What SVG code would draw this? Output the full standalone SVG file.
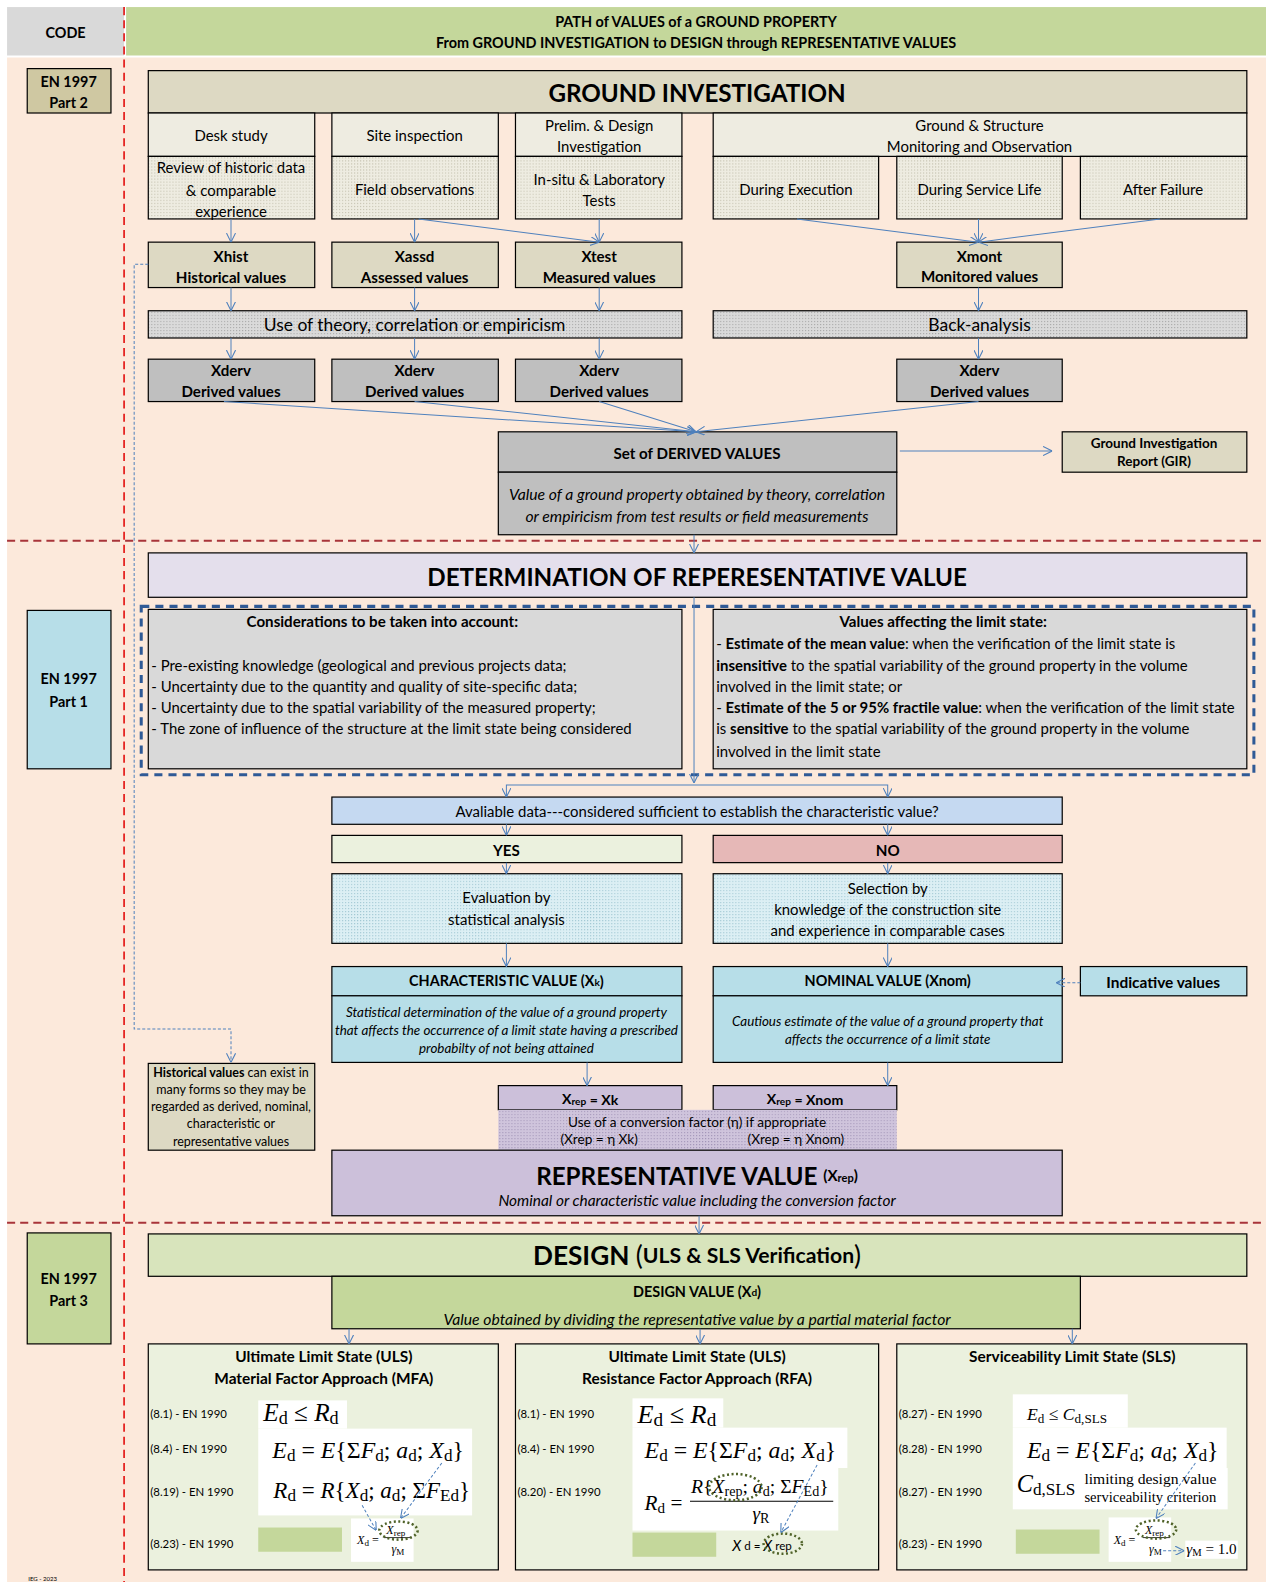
<svg xmlns="http://www.w3.org/2000/svg" width="1266" height="1582" viewBox="0 0 1266 1582">
<style>
.t{font-family:Lato,"Open Sans","Liberation Sans",sans-serif;fill:#000;dominant-baseline:central}
.c{text-anchor:middle}
.b{font-weight:bold}
.i{font-style:italic}
.s15{font-size:14.8px}
.sb{font-size:15px;font-weight:bold}
.sh{font-size:14.3px;font-weight:bold}
.s12{font-size:13.3px}
.s11{font-size:12.4px}
.lb{font-size:11.3px}
.bx{stroke:#000;stroke-width:1.2}
.cn{stroke:#4F81BD;stroke-width:1;fill:none;marker-end:url(#ah)}
.dcn{stroke:#4F81BD;stroke-width:1;fill:none;stroke-dasharray:3 2;marker-end:url(#ah)}
.f{font-family:"Liberation Serif","DejaVu Serif",serif;fill:#000}
.fi{font-style:italic}
.wb{fill:#fff}
.gb{fill:#C4D79B}
.el{fill:none;stroke:#4F6228;stroke-width:2.5;stroke-dasharray:2 2.5}
</style>
<defs>
<marker id="ah" viewBox="0 0 10 10" refX="10" refY="5" markerWidth="9" markerHeight="9" orient="auto" markerUnits="userSpaceOnUse">
<path d="M0,0 L10,5 L0,10" fill="none" stroke="#4F81BD" stroke-width="1.2"/>
</marker>
<pattern id="pTan" width="3" height="3" patternUnits="userSpaceOnUse"><rect width="3" height="3" fill="#EEECE1"/><rect width="1" height="1" fill="#BDB9A6"/></pattern>
<pattern id="pGray" width="3" height="3" patternUnits="userSpaceOnUse"><rect width="3" height="3" fill="#DADADA"/><rect width="1" height="1" fill="#9E9E9E"/></pattern>
<pattern id="pCyan" width="3" height="3" patternUnits="userSpaceOnUse"><rect width="3" height="3" fill="#DCEFF4"/><rect width="1" height="1" fill="#9FC6D2"/></pattern>
<pattern id="pPur" width="3" height="3" patternUnits="userSpaceOnUse"><rect width="3" height="3" fill="#CFC4DC"/><rect width="1" height="1" fill="#A093B6"/></pattern>
</defs>
<g transform="scale(1.00876,1.00893)">
<rect x="0" y="0" width="1255" height="1568" fill="#FFFFFF"/>
<rect x="7" y="57" width="1248" height="1511" fill="#FCE9DB"/>

<g id="header">
<rect x="7" y="7" width="116" height="48" fill="#D9D9D9"/>
<text class="t c sh" x="65" y="32">CODE</text>
<rect x="125" y="7" width="1130" height="48" fill="#C4D79B"/>
<text class="t c sh" x="690" y="21">PATH of VALUES of a GROUND PROPERTY</text>
<text class="t c sh" x="690" y="42">From GROUND INVESTIGATION to DESIGN through REPRESENTATIVE VALUES</text>
</g>

<g id="separators" fill="none">
<line x1="123" y1="7" x2="123" y2="1568" stroke="#E00000" stroke-width="1.5" stroke-dasharray="8 5"/>
<line x1="7" y1="536" x2="1255" y2="536" stroke="#A8343A" stroke-width="2" stroke-dasharray="8 5"/>
<line x1="7" y1="1212" x2="1255" y2="1212" stroke="#A8343A" stroke-width="2" stroke-dasharray="8 5"/>
</g>

<g id="code-part2"><rect class="bx" x="27" y="68" width="83" height="44" fill="#CFC8A2"/>
<text class="t c sh" x="68" y="81">EN 1997</text><text class="t c sh" x="68" y="102">Part 2</text></g>
<g id="code-part1"><rect class="bx" x="27" y="605" width="83" height="157" fill="#B7DEE8"/>
<text class="t c sh" x="68" y="673">EN 1997</text><text class="t c sh" x="68" y="695">Part 1</text></g>
<g id="code-part3"><rect class="bx" x="27" y="1222" width="83" height="110" fill="#C4D79B"/>
<text class="t c sh" x="68" y="1267">EN 1997</text><text class="t c sh" x="68" y="1289">Part 3</text></g>

<g id="ground-investigation">
<rect class="bx" x="147" y="70" width="1089" height="42" fill="#DDD9C3"/>
<text class="t c b" x="691" y="92" font-size="24">GROUND INVESTIGATION</text>
</g>
<g id="desk-study"><rect class="bx" x="147" y="112" width="165" height="43" fill="#EEECE1"/><text class="t c s15" x="229" y="134">Desk study</text>
<rect class="bx" x="147" y="155" width="165" height="62" fill="url(#pTan)"/>
<text class="t c s15" x="229" y="166">Review of historic data</text><text class="t c s15" x="229" y="188">&amp; comparable</text><text class="t c s15" x="229" y="209">experience</text></g>
<g id="site-inspection"><rect class="bx" x="329" y="112" width="165" height="43" fill="#EEECE1"/><text class="t c s15" x="411" y="134">Site inspection</text>
<rect class="bx" x="329" y="155" width="165" height="62" fill="url(#pTan)"/><text class="t c s15" x="411" y="187">Field observations</text></g>
<g id="prelim"><rect class="bx" x="511" y="112" width="165" height="43" fill="#EEECE1"/><text class="t c s15" x="594" y="124">Prelim. &amp; Design</text><text class="t c s15" x="594" y="145">Investigation</text>
<rect class="bx" x="511" y="155" width="165" height="62" fill="url(#pTan)"/><text class="t c s15" x="594" y="177">In-situ &amp; Laboratory</text><text class="t c s15" x="594" y="198">Tests</text></g>
<g id="monitoring"><rect class="bx" x="707" y="112" width="529" height="43" fill="#EEECE1"/><text class="t c s15" x="971" y="124">Ground &amp; Structure</text><text class="t c s15" x="971" y="145">Monitoring and Observation</text></g>
<g id="during-execution"><rect class="bx" x="707" y="155" width="164" height="62" fill="url(#pTan)"/><text class="t c s15" x="789" y="187">During Execution</text></g>
<g id="during-service"><rect class="bx" x="889" y="155" width="164" height="62" fill="url(#pTan)"/><text class="t c s15" x="971" y="187">During Service Life</text></g>
<g id="after-failure"><rect class="bx" x="1071" y="155" width="165" height="62" fill="url(#pTan)"/><text class="t c s15" x="1153" y="187">After Failure</text></g>

<g id="xhist"><rect class="bx" x="147" y="240" width="165" height="45" fill="#DDD9C3"/><text class="t c sb" x="229" y="254">Xhist</text><text class="t c sb" x="229" y="275">Historical values</text></g>
<g id="xassd"><rect class="bx" x="329" y="240" width="165" height="45" fill="#DDD9C3"/><text class="t c sb" x="411" y="254">Xassd</text><text class="t c sb" x="411" y="275">Assessed values</text></g>
<g id="xtest"><rect class="bx" x="511" y="240" width="165" height="45" fill="#DDD9C3"/><text class="t c sb" x="594" y="254">Xtest</text><text class="t c sb" x="594" y="275">Measured values</text></g>
<g id="xmont"><rect class="bx" x="889" y="240" width="164" height="45" fill="#DDD9C3"/><text class="t c sb" x="971" y="254">Xmont</text><text class="t c sb" x="971" y="274">Monitored values</text></g>

<g id="theory"><rect class="bx" x="147" y="308" width="529" height="27" fill="url(#pGray)"/><text class="t c" x="411" y="322" font-size="17.3">Use of theory, correlation or empiricism</text></g>
<g id="back-analysis"><rect class="bx" x="707" y="308" width="529" height="27" fill="url(#pGray)"/><text class="t c" x="971" y="322" font-size="17.3">Back-analysis</text></g>

<g id="xderv1"><rect class="bx" x="147" y="356" width="165" height="42" fill="#BFBFBF"/><text class="t c sb" x="229" y="367">Xderv</text><text class="t c sb" x="229" y="388">Derived values</text></g>
<g id="xderv2"><rect class="bx" x="329" y="356" width="165" height="42" fill="#BFBFBF"/><text class="t c sb" x="411" y="367">Xderv</text><text class="t c sb" x="411" y="388">Derived values</text></g>
<g id="xderv3"><rect class="bx" x="511" y="356" width="165" height="42" fill="#BFBFBF"/><text class="t c sb" x="594" y="367">Xderv</text><text class="t c sb" x="594" y="388">Derived values</text></g>
<g id="xderv4"><rect class="bx" x="889" y="356" width="164" height="42" fill="#BFBFBF"/><text class="t c sb" x="971" y="367">Xderv</text><text class="t c sb" x="971" y="388">Derived values</text></g>

<g id="set-derived"><rect class="bx" x="494" y="428" width="395" height="40" fill="#BFBFBF"/><text class="t c sb" x="691" y="449">Set of DERIVED VALUES</text>
<rect class="bx" x="494" y="468" width="395" height="62" fill="#BFBFBF"/>
<text class="t c i" x="691" y="489" font-size="15.6">Value of a ground property obtained by theory, correlation</text>
<text class="t c i" x="691" y="511" font-size="15.6">or empiricism from test results or field measurements</text></g>
<g id="gir"><rect class="bx" x="1053" y="428" width="183" height="40" fill="#DDD9C3"/><text class="t c b" x="1144" y="439" font-size="13.4">Ground Investigation</text><text class="t c b" x="1144" y="457" font-size="13.4">Report (GIR)</text></g>

<g id="determination"><rect class="bx" x="147" y="548" width="1089" height="44" fill="#E4DFEC"/><text class="t c b" x="691" y="571" font-size="24">DETERMINATION OF REPERESENTATIVE VALUE</text></g>

<rect x="140" y="601" width="1103" height="167" fill="none" stroke="#2F5A96" stroke-width="3" stroke-dasharray="8 6"/>
<g id="considerations"><rect class="bx" x="147" y="604" width="529" height="158" fill="#D9D9D9"/>
<text class="t c sb" x="379" y="616">Considerations to be taken into account:</text>
<text class="t s15" x="150" y="659">- Pre-existing knowledge (geological and previous projects data;</text>
<text class="t s15" x="150" y="680">- Uncertainty due to the quantity and quality of site-specific data;</text>
<text class="t s15" x="150" y="701">- Uncertainty due to the spatial variability of the measured property;</text>
<text class="t s15" x="150" y="722">- The zone of influence of the structure at the limit state being considered</text></g>
<g id="values-affecting"><rect class="bx" x="707" y="604" width="529" height="158" fill="#D9D9D9"/>
<text class="t c sb" x="935" y="616">Values affecting the limit state:</text>
<text class="t s15" x="710" y="637"> - <tspan class="b">Estimate of the mean value</tspan>: when the verification of the limit state is</text>
<text class="t s15" x="710" y="659"><tspan class="b">insensitive</tspan> to the spatial variability of the ground property in the volume</text>
<text class="t s15" x="710" y="680">involved in the limit state; or</text>
<text class="t s15" x="710" y="701"> - <tspan class="b">Estimate of the 5 or 95% fractile value</tspan>: when the verification of the limit state</text>
<text class="t s15" x="710" y="722">is <tspan class="b">sensitive</tspan> to the spatial variability of the ground property in the volume</text>
<text class="t s15" x="710" y="744">involved in the limit state</text></g>

<g id="available-data"><rect class="bx" x="329" y="790" width="724" height="27" fill="#C5D9F1"/><text class="t c s15" x="691" y="804">Avaliable data---considered sufficient to establish the characteristic value?</text></g>
<g id="yes"><rect class="bx" x="329" y="828" width="347" height="27" fill="#EBF1DE"/><text class="t c sb" x="502" y="842">YES</text></g>
<g id="no"><rect class="bx" x="707" y="828" width="346" height="27" fill="#E6B8B7"/><text class="t c sb" x="880" y="842">NO</text></g>
<g id="evaluation"><rect class="bx" x="329" y="866" width="347" height="69" fill="url(#pCyan)"/><text class="t c s15" x="502" y="889">Evaluation by</text><text class="t c s15" x="502" y="911">statistical analysis</text></g>
<g id="selection"><rect class="bx" x="707" y="866" width="346" height="69" fill="url(#pCyan)"/><text class="t c s15" x="880" y="880">Selection by</text><text class="t c s15" x="880" y="901">knowledge of the construction site</text><text class="t c s15" x="880" y="922">and experience in comparable cases</text></g>

<g id="characteristic"><rect class="bx" x="329" y="958" width="347" height="29" fill="#B7DEE8"/><text class="t c sh" x="502" y="972">CHARACTERISTIC VALUE (X<tspan font-size="10" dy="1">k</tspan><tspan dy="-1">)</tspan></text>
<rect class="bx" x="329" y="987" width="347" height="66" fill="#B7DEE8"/>
<text class="t c i s12" x="502" y="1003">Statistical determination of the value of a ground property</text>
<text class="t c i s12" x="502" y="1021">that affects the occurrence of a limit state having a prescribed</text>
<text class="t c i s12" x="502" y="1039">probabilty of not being attained</text></g>
<g id="nominal"><rect class="bx" x="707" y="958" width="346" height="29" fill="#B7DEE8"/><text class="t c sh" x="880" y="972">NOMINAL VALUE (Xnom)</text>
<rect class="bx" x="707" y="987" width="346" height="66" fill="#B7DEE8"/>
<text class="t c i s12" x="880" y="1012">Cautious estimate of the value of a ground property that</text>
<text class="t c i s12" x="880" y="1030">affects the occurrence of a limit state</text></g>
<g id="indicative"><rect class="bx" x="1071" y="958" width="165" height="29" fill="#B7DEE8"/><text class="t c b" x="1153" y="973" font-size="15.3">Indicative values</text></g>

<g id="historical-note"><rect class="bx" x="147" y="1054" width="165" height="86" fill="#DDD9C3"/>
<text class="t c s11" x="229" y="1063"><tspan class="b">Historical values</tspan> can exist in</text>
<text class="t c s11" x="229" y="1080">many forms so they may be</text>
<text class="t c s11" x="229" y="1097">regarded as derived, nominal,</text>
<text class="t c s11" x="229" y="1114">characteristic or</text>
<text class="t c s11" x="229" y="1131">representative values</text></g>

<g id="xrep-xk"><rect class="bx" x="494" y="1076" width="182" height="24" fill="#CCC0DA"/><text class="t c b" x="585" y="1089" font-size="14">X<tspan font-size="10" dy="2">rep</tspan><tspan dy="-2"> = Xk</tspan></text></g>
<g id="xrep-xnom"><rect class="bx" x="707" y="1076" width="182" height="24" fill="#CCC0DA"/><text class="t c b" x="798" y="1089" font-size="14">X<tspan font-size="10" dy="2">rep</tspan><tspan dy="-2"> = Xnom</tspan></text></g>
<g id="conversion"><rect x="494" y="1100" width="395" height="40" fill="url(#pPur)"/>
<text class="t c" x="691" y="1112" font-size="13.5">Use of a conversion factor (η) if appropriate</text>
<text class="t c" x="594" y="1129" font-size="13.5">(Xrep = η Xk)</text>
<text class="t c" x="789" y="1129" font-size="13.5">(Xrep = η Xnom)</text></g>
<g id="representative"><rect class="bx" x="329" y="1140" width="724" height="65" fill="#CCC0DA"/>
<text class="t c b" x="691" y="1165" font-size="24"><tspan>REPRESENTATIVE VALUE </tspan><tspan font-size="15">(X</tspan><tspan font-size="11" dy="2">rep</tspan><tspan font-size="15" dy="-2">)</tspan></text>
<text class="t c i" x="691" y="1189" font-size="15.3">Nominal or characteristic value including the conversion factor</text></g>

<g id="design"><rect class="bx" x="147" y="1223" width="1089" height="42" fill="#D8E4BC"/>
<text class="t c b" x="691" y="1244" font-size="26"><tspan>DESIGN </tspan><tspan font-weight="normal">(</tspan><tspan font-size="21">ULS &amp; SLS Verification</tspan><tspan font-weight="normal">)</tspan></text></g>
<g id="design-value"><rect class="bx" x="329" y="1265" width="742" height="52" fill="#C4D79B"/>
<text class="t c sh" x="691" y="1280">DESIGN VALUE (X<tspan font-size="10" dy="1">d</tspan><tspan dy="-1">)</tspan></text>
<text class="t c i" x="691" y="1307" font-size="15.6">Value obtained by dividing the representative value by a partial material factor</text></g>

<g id="uls-mfa"><rect class="bx" x="147" y="1332" width="347" height="224" fill="#EBF1DE"/>
<text class="t c b" x="321" y="1344" font-size="15.3">Ultimate Limit State (ULS)</text>
<text class="t c b" x="321" y="1366" font-size="15.3">Material Factor Approach (MFA)</text>
<text class="t lb" x="149" y="1401">(8.1) - EN 1990</text>
<text class="t lb" x="149" y="1436">(8.4) - EN 1990</text>
<text class="t lb" x="149" y="1478">(8.19) - EN 1990</text>
<text class="t lb" x="149" y="1530">(8.23) - EN 1990</text>
<rect class="wb" x="256" y="1388" width="88" height="28"/>
<rect class="wb" x="256" y="1416" width="212" height="86"/>
<text class="f" x="261" y="1408" font-size="25"><tspan class="fi">E</tspan><tspan font-size="18" dy="3">d</tspan><tspan dy="-3"> ≤ </tspan><tspan class="fi">R</tspan><tspan font-size="18" dy="3">d</tspan></text>
<text class="f" x="270" y="1445" font-size="23.6"><tspan class="fi">E</tspan><tspan font-size="17" dy="3">d</tspan><tspan dy="-3"> = </tspan><tspan class="fi">E</tspan><tspan>{Σ</tspan><tspan class="fi">F</tspan><tspan font-size="17" dy="3">d</tspan><tspan dy="-3">; </tspan><tspan class="fi">a</tspan><tspan font-size="17" dy="3">d</tspan><tspan dy="-3">; </tspan><tspan class="fi">X</tspan><tspan font-size="17" dy="3">d</tspan><tspan dy="-3">}</tspan></text>
<text class="f" x="271" y="1485" font-size="22.8"><tspan class="fi">R</tspan><tspan font-size="17" dy="3">d</tspan><tspan dy="-3"> = </tspan><tspan class="fi">R</tspan><tspan>{</tspan><tspan class="fi">X</tspan><tspan font-size="17" dy="3">d</tspan><tspan dy="-3">; </tspan><tspan class="fi">a</tspan><tspan font-size="17" dy="3">d</tspan><tspan dy="-3">; Σ</tspan><tspan class="fi">F</tspan><tspan font-size="17" dy="3">Ed</tspan><tspan dy="-3">}</tspan></text>
<rect class="gb" x="256" y="1514" width="83" height="24"/>
<rect class="wb" x="348" y="1505" width="62" height="43"/>
<text class="f" x="354" y="1530" font-size="12"><tspan class="fi">X</tspan><tspan font-size="9" dy="2">d</tspan><tspan dy="-2"> =</tspan></text>
<text class="f" x="383" y="1520" font-size="12"><tspan class="fi">X</tspan><tspan font-size="9" dy="2">rep</tspan></text>
<line x1="381" y1="1524" x2="408" y2="1524" stroke="#000" stroke-width="0.8"/>
<text class="f" x="388" y="1539" font-size="12"><tspan class="fi">γ</tspan><tspan font-size="9" dy="2">M</tspan></text>
<ellipse class="el" cx="395" cy="1517" rx="19" ry="9"/>
</g>

<g id="uls-rfa"><rect class="bx" x="511" y="1332" width="360" height="224" fill="#EBF1DE"/>
<text class="t c b" x="691" y="1344" font-size="15.3">Ultimate Limit State (ULS)</text>
<text class="t c b" x="691" y="1366" font-size="15.3">Resistance Factor Approach (RFA)</text>
<text class="t lb" x="513" y="1401">(8.1) - EN 1990</text>
<text class="t lb" x="513" y="1436">(8.4) - EN 1990</text>
<text class="t lb" x="513" y="1478">(8.20) - EN 1990</text>
<rect class="wb" x="627" y="1386" width="90" height="29"/>
<rect class="wb" x="627" y="1415" width="213" height="40"/>
<rect class="wb" x="627" y="1455" width="204" height="62"/>
<text class="f" x="632" y="1410" font-size="26"><tspan class="fi">E</tspan><tspan font-size="19" dy="3">d</tspan><tspan dy="-3"> ≤ </tspan><tspan class="fi">R</tspan><tspan font-size="19" dy="3">d</tspan></text>
<text class="f" x="639" y="1445" font-size="23.6"><tspan class="fi">E</tspan><tspan font-size="17" dy="3">d</tspan><tspan dy="-3"> = </tspan><tspan class="fi">E</tspan><tspan>{Σ</tspan><tspan class="fi">F</tspan><tspan font-size="17" dy="3">d</tspan><tspan dy="-3">; </tspan><tspan class="fi">a</tspan><tspan font-size="17" dy="3">d</tspan><tspan dy="-3">; </tspan><tspan class="fi">X</tspan><tspan font-size="17" dy="3">d</tspan><tspan dy="-3">}</tspan></text>
<text class="f" x="639" y="1497" font-size="21"><tspan class="fi">R</tspan><tspan font-size="15" dy="3">d</tspan><tspan dy="-3"> =</tspan></text>
<text class="f" x="685" y="1480" font-size="19.5"><tspan class="fi">R</tspan><tspan>{</tspan><tspan class="fi">X</tspan><tspan font-size="14" dy="3">rep</tspan><tspan dy="-3">; </tspan><tspan class="fi">a</tspan><tspan font-size="14" dy="3">d</tspan><tspan dy="-3">; Σ</tspan><tspan class="fi">F</tspan><tspan font-size="14" dy="3">Ed</tspan><tspan dy="-3">}</tspan></text>
<line x1="684" y1="1488" x2="826" y2="1488" stroke="#000" stroke-width="1"/>
<text class="f" x="746" y="1507" font-size="19"><tspan class="fi">γ</tspan><tspan font-size="14" dy="3">R</tspan></text>
<ellipse class="el" cx="729" cy="1474" rx="26" ry="13"/>
<rect class="gb" x="627" y="1519" width="83" height="24"/>
<text class="t" x="726" y="1531" font-size="14.5"><tspan class="i">X</tspan><tspan font-size="11.5"> d = </tspan><tspan class="i">X</tspan><tspan font-size="11.5"> rep</tspan></text>
<ellipse class="el" cx="776" cy="1530" rx="19" ry="10"/>
</g>

<g id="sls"><rect class="bx" x="889" y="1332" width="347" height="224" fill="#EBF1DE"/>
<text class="t c b" x="1063" y="1344" font-size="15.3">Serviceability Limit State (SLS)</text>
<text class="t lb" x="891" y="1401">(8.27) - EN 1990</text>
<text class="t lb" x="891" y="1436">(8.28) - EN 1990</text>
<text class="t lb" x="891" y="1478">(8.27) - EN 1990</text>
<text class="t lb" x="891" y="1530">(8.23) - EN 1990</text>
<rect class="wb" x="1004" y="1382" width="114" height="33"/>
<rect class="wb" x="1004" y="1415" width="212" height="40"/>
<rect class="wb" x="1004" y="1455" width="213" height="41"/>
<text class="f" x="1018" y="1407" font-size="17.5"><tspan class="fi">E</tspan><tspan font-size="13" dy="3">d</tspan><tspan dy="-3"> ≤ </tspan><tspan class="fi">C</tspan><tspan font-size="13" dy="3">d,SLS</tspan></text>
<text class="f" x="1018" y="1445" font-size="23.6"><tspan class="fi">E</tspan><tspan font-size="17" dy="3">d</tspan><tspan dy="-3"> = </tspan><tspan class="fi">E</tspan><tspan>{Σ</tspan><tspan class="fi">F</tspan><tspan font-size="17" dy="3">d</tspan><tspan dy="-3">; </tspan><tspan class="fi">a</tspan><tspan font-size="17" dy="3">d</tspan><tspan dy="-3">; </tspan><tspan class="fi">X</tspan><tspan font-size="17" dy="3">d</tspan><tspan dy="-3">}</tspan></text>
<text class="f" x="1008" y="1479" font-size="24"><tspan class="fi">C</tspan><tspan font-size="17" dy="3">d,SLS</tspan></text>
<text class="f" x="1075" y="1471" font-size="15.5">limiting design value</text>
<text class="f" x="1075" y="1489" font-size="14.5">serviceability criterion</text>
<rect class="gb" x="1007" y="1516" width="83" height="24"/>
<rect class="wb" x="1099" y="1504" width="62" height="44"/>
<rect class="wb" x="1175" y="1527" width="52" height="18"/>
<text class="f" x="1104" y="1530" font-size="12"><tspan class="fi">X</tspan><tspan font-size="9" dy="2">d</tspan><tspan dy="-2"> =</tspan></text>
<text class="f" x="1135" y="1520" font-size="12"><tspan class="fi">X</tspan><tspan font-size="9" dy="2">rep</tspan></text>
<line x1="1133" y1="1524" x2="1160" y2="1524" stroke="#000" stroke-width="0.8"/>
<text class="f" x="1139" y="1539" font-size="12"><tspan class="fi">γ</tspan><tspan font-size="9" dy="2">M</tspan></text>
<text class="f" x="1176" y="1540" font-size="15"><tspan class="fi">γ</tspan><tspan font-size="10.5" dy="2">M</tspan><tspan dy="-2"> = 1.0</tspan></text>
<ellipse class="el" cx="1146" cy="1516" rx="20" ry="9"/>
</g>

<text class="t" x="28" y="1565" font-size="6">IEG - 2023</text>

<g id="connectors">
<path class="cn" d="M229,217 V240"/>
<path class="cn" d="M411,217 V240"/>
<path class="cn" d="M415,217 L594,240"/>
<path class="cn" d="M594,217 V240"/>
<path class="cn" d="M790,217 L970,240"/>
<path class="cn" d="M970,217 V240"/>
<path class="cn" d="M1150,217 L970,240"/>
<path class="cn" d="M229,285 V308"/>
<path class="cn" d="M411,285 V308"/>
<path class="cn" d="M594,285 V308"/>
<path class="cn" d="M970,285 V308"/>
<path class="cn" d="M229,335 V356"/>
<path class="cn" d="M411,335 V356"/>
<path class="cn" d="M594,335 V356"/>
<path class="cn" d="M970,335 V356"/>
<path class="cn" d="M222,398 L690,428"/>
<path class="cn" d="M411,398 L690,428"/>
<path class="cn" d="M594,398 L690,428"/>
<path class="cn" d="M970,398 L690,428"/>
<path class="cn" d="M892,447 H1043"/>
<path class="cn" d="M688,530 V548"/>
<path class="cn" d="M688,592 V776"/>
<path class="cn" d="M688,778 H502 V790"/>
<path class="cn" d="M688,778 H880 V790"/>
<path class="cn" d="M502,817 V828"/>
<path class="cn" d="M880,817 V828"/>
<path class="cn" d="M502,855 V866"/>
<path class="cn" d="M880,855 V866"/>
<path class="cn" d="M502,935 V958"/>
<path class="cn" d="M880,935 V958"/>
<path class="dcn" d="M1071,974 H1047"/>
<path class="dcn" d="M147,262 H133 V1020 H229 V1053"/>
<path class="cn" d="M582,1053 V1076"/>
<path class="cn" d="M880,1053 V1076"/>
<path class="cn" d="M693,1205 V1223"/>
<path class="cn" d="M346,1317 V1332"/>
<path class="cn" d="M694,1317 V1332"/>
<path class="cn" d="M1063,1317 V1332"/>
<path class="dcn" d="M438,1450 L397,1505"/>
<path class="dcn" d="M359,1492 L373,1517"/>
<path class="dcn" d="M810,1452 L774,1519"/>
<path class="dcn" d="M1185,1450 L1146,1505"/>
<path class="dcn" d="M1153,1537 H1174"/>
</g>
</g>
</svg>
